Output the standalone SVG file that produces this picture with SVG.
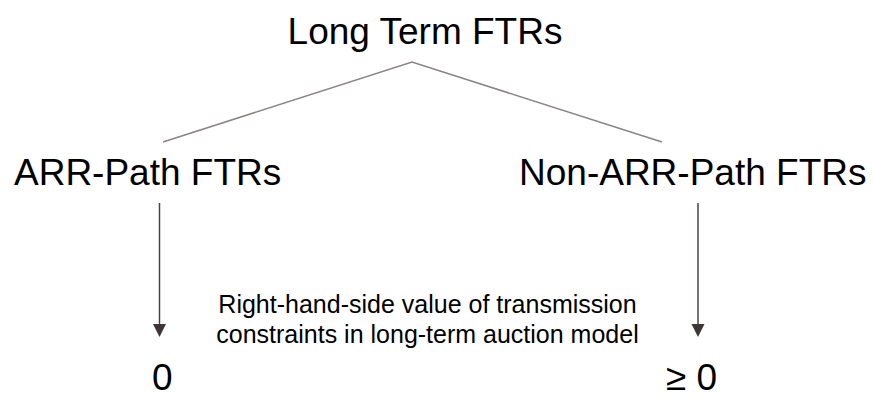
<svg xmlns="http://www.w3.org/2000/svg" width="873" height="398" viewBox="0 0 873 398">
<style>
.big{font-family:"Liberation Sans",Arial,sans-serif;font-size:37px;fill:#000}
.small{font-family:"Liberation Sans",Arial,sans-serif;font-size:25px;fill:#000}
.tree{stroke:#8a8483;stroke-width:1.5;fill:none}
.stem{stroke:#4a4240;stroke-width:1.5;fill:none}
.head{fill:#3e3634}
</style>
<rect width="873" height="398" fill="#fff"/>
<g id="connectors">
<polyline class="tree" points="163,142 412,62 662,142"/>
<line class="stem" x1="159.5" y1="203" x2="159.5" y2="325"/>
<path class="head" d="M153,324 L166,324 L159.5,337 Z"/>
<line class="stem" x1="698" y1="203" x2="698" y2="325"/>
<path class="head" d="M691.5,324 L704.5,324 L698,337 Z"/>
</g>
<g id="root"><text class="big" x="425" y="44" text-anchor="middle">Long Term FTRs</text></g>
<g id="arr-path"><text class="big" x="14" y="185">ARR-Path FTRs</text></g>
<g id="non-arr-path"><text class="big" x="519" y="185">Non-ARR-Path FTRs</text></g>
<g id="label"><text class="small" text-anchor="middle"><tspan x="427.5" y="313">Right-hand-side value of transmission</tspan><tspan x="427.5" y="343">constraints in long-term auction model</tspan></text></g>
<g id="zero"><text class="big" x="152" y="390">0</text></g>
<g id="geq-zero"><text class="big" x="666" y="390">≥ 0</text></g>
</svg>
